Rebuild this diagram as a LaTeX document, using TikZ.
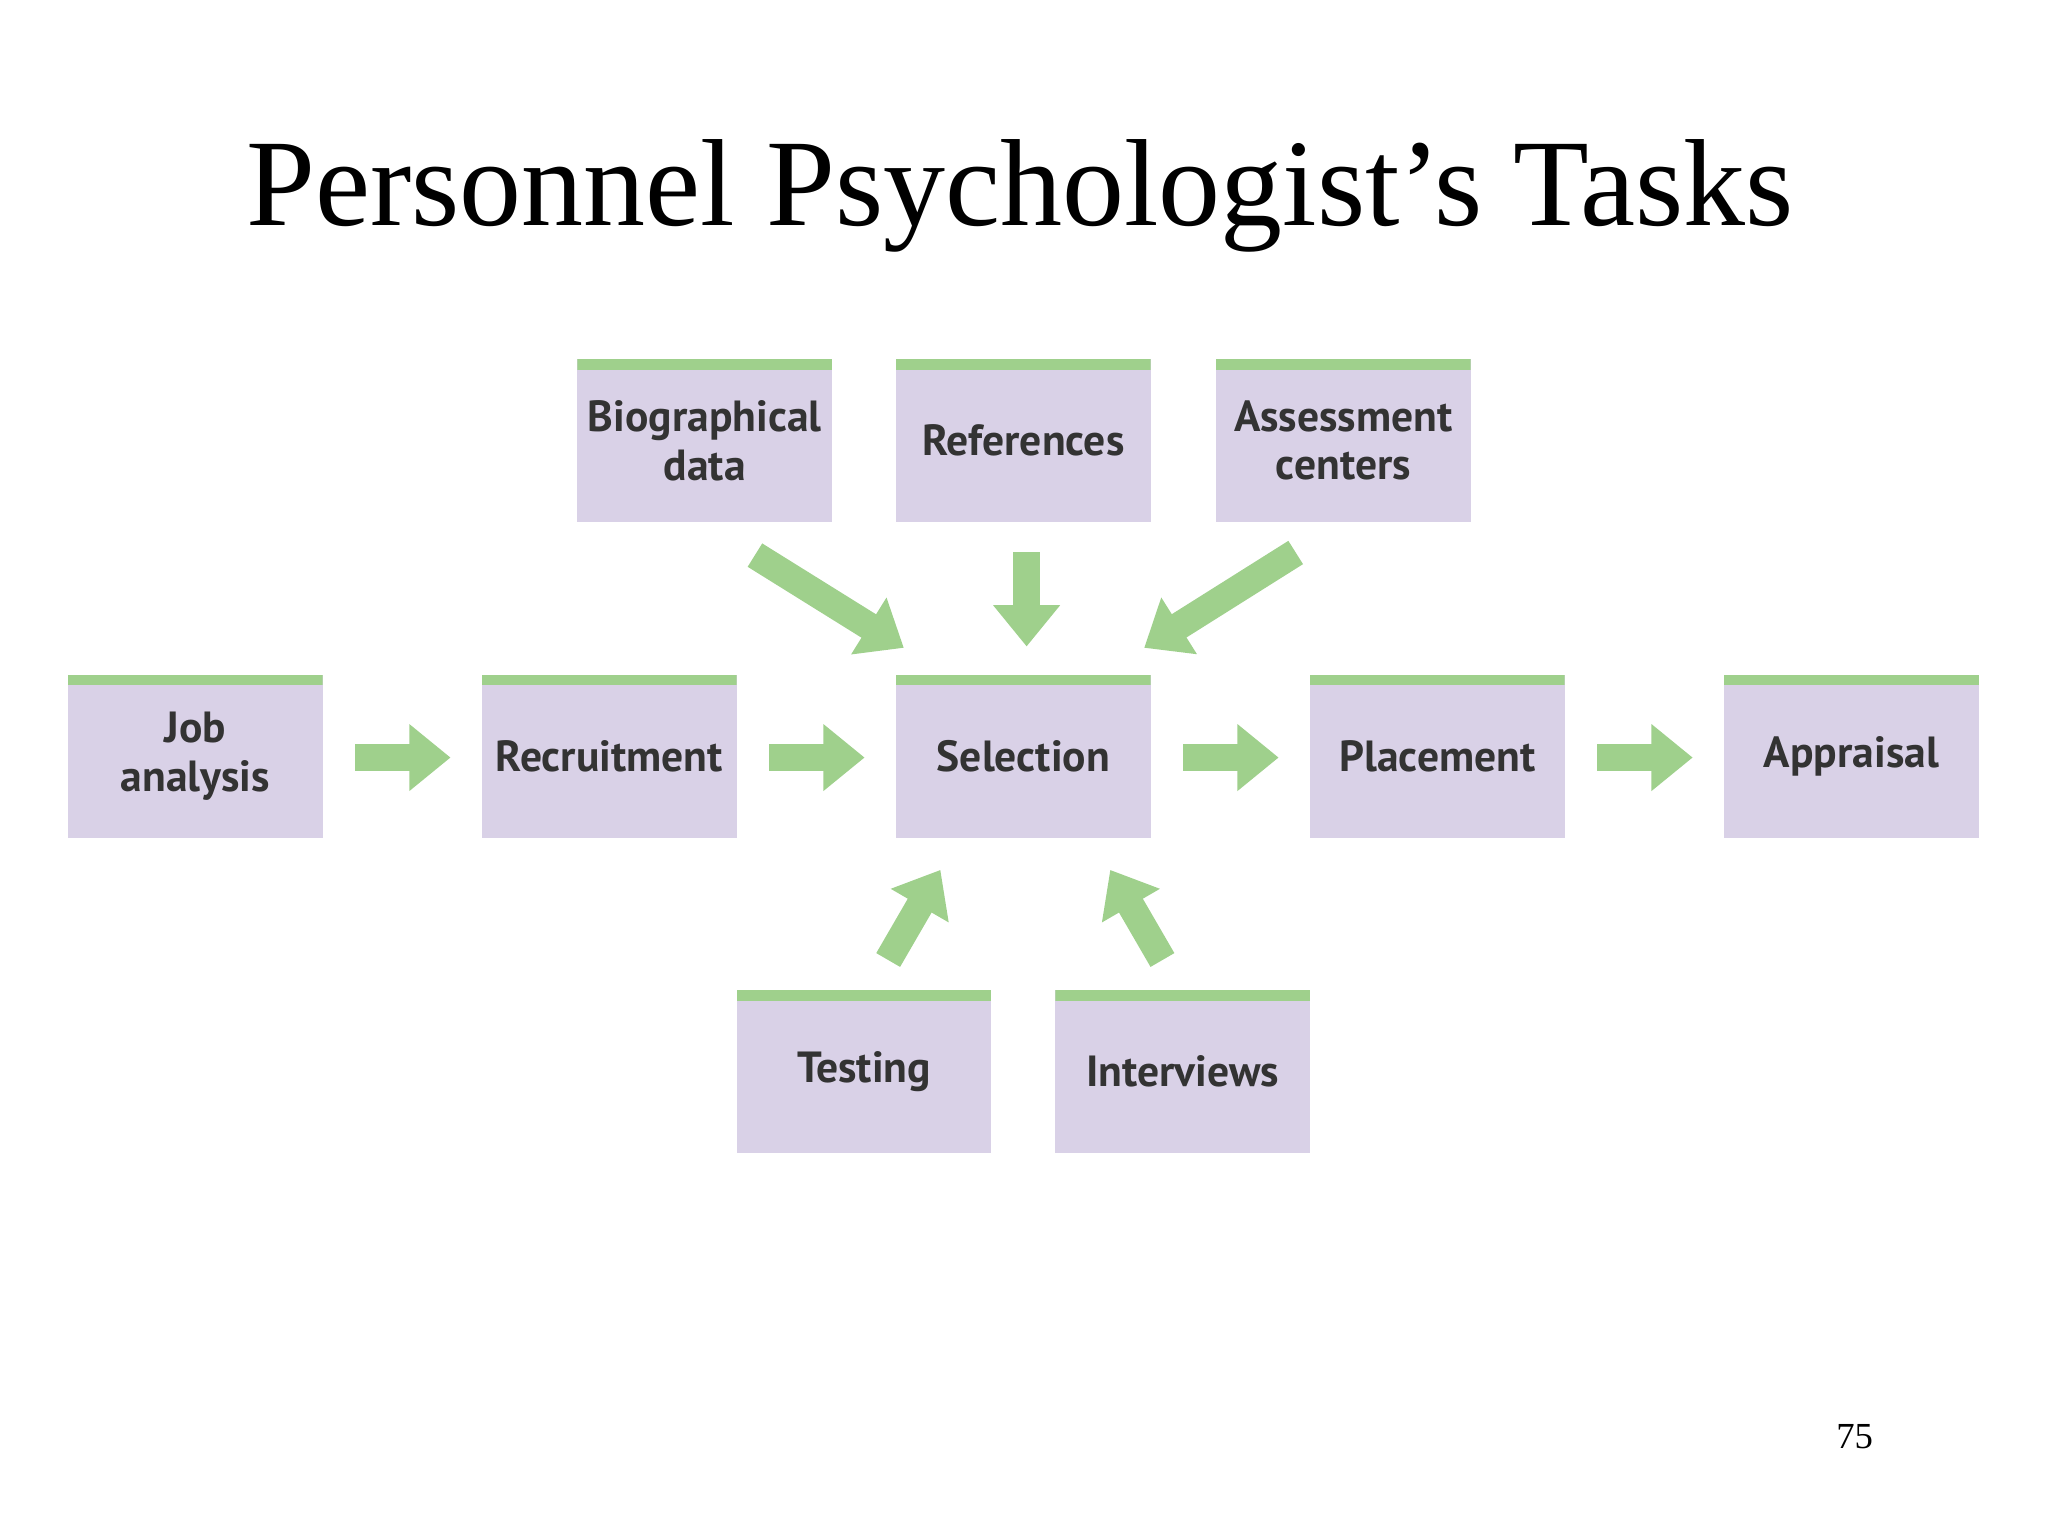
\documentclass[tikz,border=0pt]{standalone}
\usepackage{fontspec}
\setmainfont{Liberation Serif}
\newfontfamily\boxfont{PT Sans}
\usetikzlibrary{arrows.meta}
\definecolor{lav}{HTML}{D9D1E7}
\definecolor{grn}{HTML}{9FD08C}
\definecolor{txt}{HTML}{333333}
\begin{document}
\begin{tikzpicture}[x=0.02cm,y=-0.02cm,
  task/.style={fill=lav,minimum width=3.9cm,minimum height=2.5cm,inner sep=0pt,
    align=center,font=\boxfont\bfseries\fontsize{19}{21}\selectfont,text=txt,
    path picture={\fill[grn] (path picture bounding box.north west) rectangle ([yshift=-0.16cm]path picture bounding box.north east);}},
  flow/.style={draw=grn,line width=12pt,-{Triangle[length=18pt,width=28pt]}}]
\useasboundingbox (0,0) rectangle (1568,1176);
\node[font=\fontsize{54}{60}\selectfont] (title) at (781,150) {Personnel Psychologist’s Tasks};
\node[task] (bio) at (539.5,337.5) {Biographical\\data};
\node[task] (ref) at (783.5,337.5) {References};
\node[task] (ass) at (1028.5,337.5) {Assessment\\centers};
\node[task] (job) at (149.5,579) {Job\\analysis};
\node[task] (rec) at (466.5,579) {Recruitment};
\node[task] (sel) at (783.5,579) {Selection};
\node[task] (pla) at (1100.5,579) {Placement};
\node[task] (app) at (1417.5,579) {Appraisal};
\node[task] (tes) at (661.5,820.5) {Testing};
\node[task] (int) at (905.5,820.5) {Interviews};
\node[font=\fontsize{16}{18}\selectfont] (pg) at (1420,1100) {75};
\coordinate (a1) at (272,580); \coordinate (b1) at (345,580);
\coordinate (a2) at (589,580); \coordinate (b2) at (662,580);
\coordinate (a3) at (906,580); \coordinate (b3) at (979,580);
\coordinate (a4) at (1223,580); \coordinate (b4) at (1296,580);
\coordinate (a5) at (578,425); \coordinate (b5) at (692,496);
\coordinate (a6) at (786,423); \coordinate (b6) at (786,495);
\coordinate (a7) at (992,423); \coordinate (b7) at (876,496);
\coordinate (a8) at (680,735); \coordinate (b8) at (720,666);
\coordinate (a9) at (890,735); \coordinate (b9) at (850,666);
\foreach \i in {1,...,9} \draw[flow] (a\i) -- (b\i);
\end{tikzpicture}
\end{document}
